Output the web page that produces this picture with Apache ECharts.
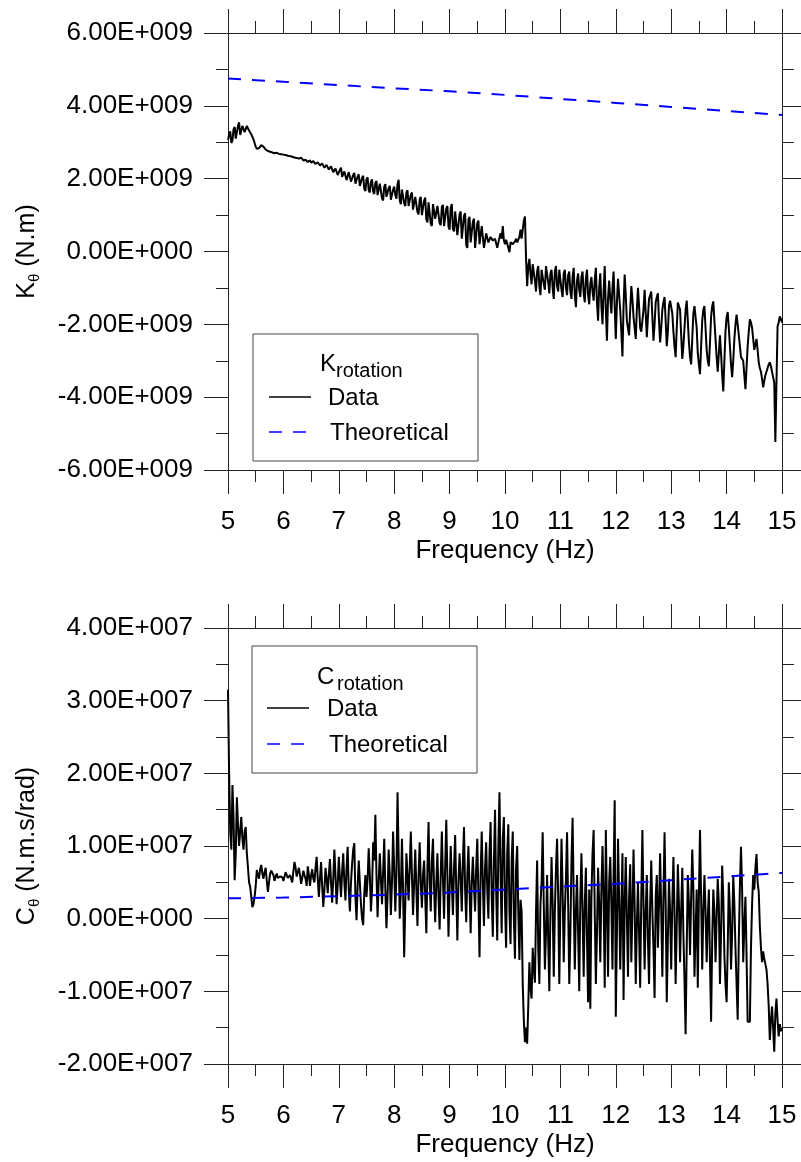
<!DOCTYPE html>
<html>
<head>
<meta charset="utf-8">
<title>Rotational stiffness and damping vs frequency</title>
<script src="https://cdn.jsdelivr.net/npm/echarts@6/dist/echarts.min.js"></script>
<style>
  html, body { margin: 0; padding: 0; background: #fff; }
  #chart { width: 801px; height: 1162px; }
</style>
</head>
<body>
<div id="chart"></div>
<script>
// Sampling grid of the measured spectra (Hz)
const FREQ_START = 5;
const FREQ_STEP = 0.02;

// Measured rotational stiffness K_theta, in units of 1e9 N.m (one row = 0.5 Hz)
const kData = [
  3.07, 3.20, 3.30, 2.98, 3.05, 3.35, 3.42, 3.10, 3.15, 3.45, 3.55, 3.20, 3.25, 3.45, 3.50, 3.28, 3.30, 3.45, 3.40, 3.32, 3.28, 3.22, 3.18, 3.08, 2.98,
  2.88, 2.82, 2.80, 2.84, 2.88, 2.92, 2.90, 2.88, 2.84, 2.80, 2.78, 2.76, 2.75, 2.74, 2.73, 2.72, 2.71, 2.70, 2.70, 2.71, 2.70, 2.68, 2.68, 2.67, 2.67,
  2.66, 2.66, 2.65, 2.64, 2.63, 2.63, 2.62, 2.61, 2.60, 2.59, 2.58, 2.58, 2.57, 2.56, 2.55, 2.57, 2.58, 2.53, 2.50, 2.54, 2.52, 2.48, 2.46, 2.50, 2.50,
  2.44, 2.42, 2.48, 2.47, 2.40, 2.38, 2.45, 2.44, 2.36, 2.33, 2.42, 2.40, 2.30, 2.28, 2.38, 2.36, 2.25, 2.22, 2.34, 2.35, 2.18, 2.14, 2.28, 2.30, 2.10,
  2.06, 2.24, 2.30, 2.05, 2.00, 2.20, 2.25, 1.96, 1.92, 2.18, 2.22, 1.92, 1.88, 2.10, 2.16, 1.86, 1.82, 2.06, 2.12, 1.80, 1.76, 2.02, 2.08, 1.72, 1.66,
  1.98, 2.04, 1.68, 1.62, 1.92, 1.98, 1.64, 1.58, 1.88, 1.94, 1.55, 1.50, 1.86, 1.90, 1.46, 1.40, 1.78, 1.85, 1.50, 1.45, 1.74, 1.80, 1.42, 1.38, 1.70,
  1.78, 1.55, 1.45, 1.85, 1.97, 1.40, 1.30, 1.70, 1.75, 1.32, 1.25, 1.62, 1.68, 1.25, 1.20, 1.56, 1.62, 1.15, 1.10, 1.50, 1.55, 1.08, 1.02, 1.44, 1.50,
  1.00, 0.95, 1.40, 1.48, 0.88, 0.80, 1.35, 1.40, 0.76, 0.70, 1.30, 1.35, 0.90, 0.85, 1.25, 1.30, 0.78, 0.72, 1.22, 1.28, 0.70, 0.65, 1.18, 1.25, 0.68,
  0.60, 1.20, 1.30, 0.62, 0.55, 1.10, 1.15, 0.45, 0.40, 1.02, 1.10, 0.35, 0.30, 0.98, 1.05, 0.18, 0.10, 0.88, 0.95, 0.25, 0.20, 0.82, 0.90, 0.10, 0.05,
  0.78, 0.85, 0.20, 0.15, 0.70, 0.75, 0.10, 0.05, 0.50, 0.55, 0.25, 0.20, 0.40, 0.45, 0.30, 0.25, 0.35, 0.40, 0.10, 0.05, 0.38, 0.50, 0.35, 0.70, 0.30,
  0.20, 0.32, 0.35, 0.10, -0.02, 0.25, 0.30, 0.20, 0.15, 0.28, 0.35, 0.25, 0.20, 0.40, 0.60, 0.35, 0.30, 0.85, 0.96, -0.20, -0.95, -0.40, -0.20, -0.60, -0.90,
  -0.35, -0.30, -0.80, -1.10, -0.55, -0.40, -0.95, -1.20, -0.50, -0.45, -0.90, -1.05, -0.40, -0.35, -0.85, -1.15, -0.60, -0.50, -1.00, -1.30, -0.55, -0.40, -0.95, -1.10, -0.50,
  -0.45, -1.05, -1.25, -0.60, -0.50, -1.00, -1.20, -0.65, -0.55, -1.10, -1.30, -0.70, -0.45, -1.20, -1.53, -0.80, -0.60, -1.05, -1.25, -0.70, -0.55, -1.15, -1.40, -0.75, -0.50,
  -1.20, -1.45, -0.90, -0.70, -1.10, -1.35, -0.80, -0.45, -1.40, -1.90, -1.00, -0.60, -1.50, -2.00, -1.10, -0.40, -1.60, -2.45, -1.30, -0.80, -1.30, -1.70, -1.00, -0.55, -1.50,
  -2.40, -1.40, -0.75, -1.20, -1.60, -2.20, -2.88, -1.50, -0.63, -1.20, -1.90, -2.10, -2.30, -1.60, -0.95, -1.30, -1.80, -2.10, -2.40, -1.60, -1.00, -1.50, -2.10, -2.20, -2.25,
  -1.60, -1.05, -1.70, -2.35, -1.80, -1.30, -1.20, -1.10, -1.80, -2.45, -2.00, -1.40, -1.25, -1.15, -1.90, -2.50, -2.10, -1.60, -1.40, -1.25, -1.90, -2.60, -2.20, -1.50, -1.35,
  -1.30, -1.70, -2.20, -2.60, -2.90, -2.10, -1.40, -1.45, -1.60, -2.30, -2.95, -2.60, -2.10, -1.60, -1.35, -1.90, -2.50, -2.90, -3.10, -2.40, -1.70, -1.50, -1.45, -2.10, -2.80,
  -3.10, -3.37, -2.60, -1.90, -1.60, -1.50, -2.10, -2.70, -3.00, -3.15, -2.50, -1.80, -1.50, -1.37, -1.90, -2.40, -2.90, -3.30, -2.80, -2.30, -2.80, -3.40, -3.84, -3.00, -2.20,
  -1.80, -1.66, -2.10, -2.60, -3.10, -3.45, -3.00, -2.40, -2.00, -1.73, -2.00, -2.30, -2.60, -2.90, -2.95, -3.00, -3.40, -3.78, -3.20, -2.60, -2.20, -1.86, -1.95, -2.10, -2.40,
  -2.70, -2.55, -2.40, -2.70, -3.05, -3.20, -3.30, -3.50, -3.73, -3.55, -3.40, -3.30, -3.20, -3.10, -3.04, -3.15, -3.30, -3.45, -3.60, -5.23, -3.60, -2.05, -1.95, -1.78, -1.85, -1.95
];

// Measured rotational damping C_theta, in units of 1e7 N.m.s/rad (one row = 0.5 Hz)
const cData = [
  3.15, 2.00, 1.20, 0.95, 1.84, 1.40, 0.53, 0.90, 1.67, 1.30, 1.00, 1.20, 1.40, 1.10, 0.95, 1.20, 1.26, 0.90, 0.71, 0.50, 0.44, 0.30, 0.16, 0.20, 0.30,
  0.45, 0.67, 0.60, 0.55, 0.68, 0.74, 0.62, 0.55, 0.64, 0.70, 0.52, 0.37, 0.50, 0.62, 0.66, 0.68, 0.60, 0.52, 0.58, 0.62, 0.56, 0.55, 0.58, 0.60, 0.57,
  0.52, 0.58, 0.64, 0.60, 0.56, 0.58, 0.60, 0.55, 0.50, 0.65, 0.78, 0.70, 0.58, 0.64, 0.70, 0.60, 0.48, 0.56, 0.66, 0.60, 0.55, 0.45, 0.72, 0.60, 0.45,
  0.60, 0.68, 0.55, 0.50, 0.70, 0.85, 0.55, 0.30, 0.55, 0.78, 0.45, 0.16, 0.40, 0.70, 0.55, 0.35, 0.60, 0.82, 0.50, 0.22, 0.55, 0.95, 0.60, 0.20, 0.45,
  0.85, 0.55, 0.30, 0.65, 0.90, 0.50, 0.25, 0.70, 0.99, 0.40, 0.10, 0.50, 0.75, 0.95, 1.04, 0.30, -0.02, 0.45, 0.80, 0.50, 0.20, 0.00, -0.09, 0.35, 0.60,
  0.30, 0.55, 0.97, 0.60, 0.10, 0.40, 1.05, 0.80, 1.43, 0.60, 0.02, 0.50, 0.90, 0.55, 0.20, 0.65, 1.10, 0.40, -0.13, 0.30, 0.95, 0.60, 0.05, 0.50, 1.20,
  0.70, 0.10, 0.60, 1.74, 0.90, 0.00, 0.40, 1.10, 0.40, -0.53, 0.20, 0.90, 0.60, 0.25, 0.70, 1.20, 0.60, 0.05, 0.50, 0.95, 0.40, -0.10, 0.60, 1.05, 0.50,
  0.15, 0.60, 0.80, 0.30, -0.20, 0.70, 1.33, 0.50, 0.10, 0.80, 1.10, 0.40, -0.05, 0.50, 0.90, 0.30, -0.15, 0.60, 1.20, 0.55, 0.00, 0.70, 1.36, 0.60, -0.25,
  0.40, 1.00, 0.50, 0.05, 0.70, 1.15, 0.40, -0.30, 0.50, 0.90, 0.55, 0.10, 0.80, 1.26, 0.40, -0.05, 0.60, 1.00, 0.40, -0.20, 0.50, 0.85, 0.45, 0.10, 0.70,
  1.10, 0.30, -0.53, 0.60, 1.20, 0.50, -0.10, 0.70, 1.05, 0.40, 0.00, 0.90, 1.33, 0.30, -0.25, 0.80, 1.50, 0.40, -0.30, 1.00, 1.74, 0.60, -0.20, 1.10, 1.40,
  0.20, -0.40, 0.90, 1.30, 0.10, -0.35, 0.80, 1.20, 0.00, -0.55, 0.70, 1.00, 0.10, -0.57, 0.26, 0.10, -0.90, -1.40, -1.70, -1.50, -1.72, -1.20, -0.60, -0.95, -1.10,
  -0.40, -0.70, -0.88, 0.10, 0.80, -0.40, -0.90, 0.20, 0.50, 1.19, 0.20, -0.70, -0.20, 0.60, -0.30, -1.00, 0.10, 0.85, 0.20, -0.80, 0.10, 0.70, 1.10, 0.30, -0.90,
  0.20, 1.10, 0.40, -0.60, 0.10, 0.55, 1.19, 0.20, -0.90, -0.20, 0.80, 1.39, 0.30, -0.70, 0.10, 0.60, -0.20, -1.00, 0.30, 0.90, 0.10, -0.80, 0.20, 0.70, -0.30,
  -1.15, 0.40, -1.24, 0.30, 0.90, 1.22, 0.10, -0.90, -0.20, 0.70, 0.20, -0.60, 0.40, 1.00, 0.30, -0.95, 1.22, 0.20, -0.80, 0.50, 0.85, 0.20, -0.70, 0.60, 1.63,
  -1.35, -0.20, 1.10, 0.30, -0.70, 0.10, 0.90, -1.12, 0.20, 0.85, 0.00, -0.80, 0.30, 0.75, -0.60, 0.10, 0.95, 0.20, -0.90, -0.10, 0.50, -0.20, -0.95, 0.30, 1.22,
  0.20, -0.70, 0.10, 0.60, -0.30, -0.90, 0.20, 0.80, 0.10, -0.40, -1.09, 0.30, 0.60, -0.40, 0.20, 0.90, 0.10, -0.80, 0.30, 1.19, 0.20, -1.15, -0.30, 0.55, 0.10,
  -0.70, 0.20, 0.85, 0.10, -0.90, -0.10, 0.75, 0.20, -0.60, 0.10, 0.70, -0.20, -0.85, -1.59, -0.40, 0.60, 0.20, -0.50, 0.30, 0.95, 0.40, -0.80, -0.20, 0.40, -0.95,
  0.30, 1.22, 0.30, -0.70, 0.10, 0.60, 0.10, -0.60, 0.00, 0.40, -0.60, -1.42, -0.30, 0.40, 0.10, -0.60, 0.00, 0.55, 0.20, -0.90, -0.20, 0.73, 0.30, -0.50, -0.90,
  -1.15, -0.40, 0.50, 0.10, -0.70, -0.20, 0.60, 0.20, -0.40, -0.90, -1.39, -0.30, 0.45, 0.99, 0.40, -0.60, -0.10, 0.30, -0.50, -1.42, -1.40, -1.42, -0.40, 0.20, 0.60,
  0.40, 0.70, 0.89, 0.50, 0.37, -0.10, -0.40, -0.60, -0.45, -0.55, -0.53, -0.70, -0.90, -1.20, -1.67, -1.40, -1.21, -1.50, -1.83, -1.30, -1.10, -1.40, -1.62, -1.45, -1.55, -1.50
];

// Theoretical curves, evaluated at whole hertz
const theoryFreq = [5, 6, 7, 8, 9, 10, 11, 12, 13, 14, 15];
const kTheory = [4.75, 4.66, 4.57, 4.48, 4.40, 4.30, 4.19, 4.08, 3.97, 3.86, 3.75];
const cTheory = [0.28, 0.29, 0.31, 0.33, 0.36, 0.40, 0.44, 0.48, 0.53, 0.58, 0.63];

// Axis ticks and their printed labels
const freqTicks = [5, 6, 7, 8, 9, 10, 11, 12, 13, 14, 15];
const kTicks = [-6, -4, -2, 0, 2, 4, 6];
const kTickLabels = ['-6.00E+009', '-4.00E+009', '-2.00E+009', '0.00E+000', '2.00E+009', '4.00E+009', '6.00E+009'];
const cTicks = [-2, -1, 0, 1, 2, 3, 4];
const cTickLabels = ['-2.00E+007', '-1.00E+007', '0.00E+000', '1.00E+007', '2.00E+007', '3.00E+007', '4.00E+007'];

const FONT = '"Liberation Sans", Arial, Helvetica, sans-serif';
const AXIS_COLOR = '#222';
const LABEL_SIZE = 26;

function pairs(values) {
  return values.map((v, i) => [+(FREQ_START + i * FREQ_STEP).toFixed(2), v]);
}
function zip(xs, ys) {
  return xs.map((x, i) => [x, ys[i]]);
}
function labelFor(ticks, labels) {
  return v => {
    const i = ticks.findIndex(t => Math.abs(t - v) < 1e-6);
    return i >= 0 ? labels[i] : '';
  };
}

const lineStyle = { color: AXIS_COLOR, width: 1 };

function xAxes(gridIndex) {
  const common = {
    type: 'value', gridIndex,
    min: freqTicks[0], max: freqTicks[freqTicks.length - 1], interval: 1,
    axisLine: { show: true, onZero: false, lineStyle },
    axisTick: { show: true, inside: false, length: 24, lineStyle },
    minorTick: { show: true, splitNumber: 2, length: 12, lineStyle },
    splitLine: { show: false }, minorSplitLine: { show: false }
  };
  return [
    Object.assign({}, common, {
      position: 'bottom',
      axisLabel: { show: true, margin: 39, fontSize: LABEL_SIZE, fontFamily: FONT, color: '#000' },
      name: 'Frequency (Hz)', nameLocation: 'middle', nameGap: 68,
      nameTextStyle: { fontSize: LABEL_SIZE, fontFamily: FONT, color: '#000' }
    }),
    Object.assign({}, common, { position: 'top', axisLabel: { show: false } })
  ];
}

function yAxes(gridIndex, ticks, labels, interval, nameRich) {
  const common = {
    type: 'value', gridIndex,
    min: ticks[0], max: ticks[ticks.length - 1], interval,
    axisLine: { show: true, onZero: false, lineStyle },
    axisTick: { show: true, inside: false, length: 24, lineStyle },
    minorTick: { show: true, splitNumber: 2, length: 12, lineStyle },
    splitLine: { show: false }, minorSplitLine: { show: false }
  };
  return [
    Object.assign({}, common, {
      position: 'left',
      axisLabel: { show: true, margin: 35, fontSize: LABEL_SIZE, fontFamily: FONT, color: '#000',
                   formatter: labelFor(ticks, labels) },
      name: nameRich, nameLocation: 'middle', nameGap: 186,
      nameTextStyle: {
        color: '#000', fontFamily: FONT, fontSize: 25,
        rich: {
          m: { fontSize: 25, fontFamily: FONT, color: '#000', lineHeight: 30 },
          s: { fontSize: 15, fontFamily: FONT, color: '#000', lineHeight: 12, verticalAlign: 'bottom' }
        }
      }
    }),
    Object.assign({}, common, { position: 'right', axisLabel: { show: false } })
  ];
}

// Legend box drawn as graphic elements
function legendBox(x, y, w, h, letter, titleX, subX, titleBase, subBase, dataY, theoY, lineX, textX) {
  const stroke = '#444';
  return [
    { type: 'rect', z: 100, shape: { x, y, width: w, height: h },
      style: { fill: '#fff', stroke, lineWidth: 1 } },
    { type: 'text', z: 101, x: titleX, y: titleBase,
      style: { text: letter, font: '24px ' + FONT, fill: '#000', align: 'left', verticalAlign: 'bottom',
               textAlign: 'left', textVerticalAlign: 'bottom' } },
    { type: 'text', z: 101, x: subX, y: subBase,
      style: { text: 'rotation', font: '20px ' + FONT, fill: '#000', align: 'left', verticalAlign: 'bottom',
               textAlign: 'left', textVerticalAlign: 'bottom' } },
    { type: 'line', z: 101, shape: { x1: lineX, y1: dataY, x2: lineX + 42, y2: dataY },
      style: { stroke: '#000', lineWidth: 1.5 } },
    { type: 'text', z: 101, x: textX, y: dataY + 1,
      style: { text: 'Data', font: '24px ' + FONT, fill: '#000', align: 'left', verticalAlign: 'middle',
               textAlign: 'left', textVerticalAlign: 'middle' } },
    { type: 'line', z: 101, shape: { x1: lineX, y1: theoY, x2: lineX + 38, y2: theoY },
      style: { stroke: '#0000ff', lineWidth: 1.5, lineDash: [13, 11] } },
    { type: 'text', z: 101, x: textX + 2, y: theoY + 1,
      style: { text: 'Theoretical', font: '24px ' + FONT, fill: '#000', align: 'left', verticalAlign: 'middle',
               textAlign: 'left', textVerticalAlign: 'middle' } }
  ];
}

const chart = echarts.init(document.getElementById('chart'), null, { renderer: 'canvas' });

const option = {
  backgroundColor: '#fff',
  animation: false,
  grid: [
    { left: 228, top: 33, width: 554, height: 437 },
    { left: 228, top: 628, width: 554, height: 436 }
  ],
  xAxis: [...xAxes(0), ...xAxes(1)],
  yAxis: [
    ...yAxes(0, kTicks, kTickLabels, 2, '{m|K}{s|θ}{m| (N.m)}'),
    ...yAxes(1, cTicks, cTickLabels, 1, '{m|C}{s|θ}{m| (N.m.s/rad)}')
  ],
  series: [
    { name: 'Data', type: 'line', xAxisIndex: 0, yAxisIndex: 0, data: pairs(kData),
      showSymbol: false, lineStyle: { color: '#000', width: 2 }, z: 3 },
    { name: 'Theoretical', type: 'line', xAxisIndex: 0, yAxisIndex: 0, data: zip(theoryFreq, kTheory),
      showSymbol: false, lineStyle: { color: '#0000ff', width: 2, type: [13, 11] }, z: 4 },
    { name: 'Data', type: 'line', xAxisIndex: 2, yAxisIndex: 2, data: pairs(cData),
      showSymbol: false, lineStyle: { color: '#000', width: 2 }, z: 3 },
    { name: 'Theoretical', type: 'line', xAxisIndex: 2, yAxisIndex: 2, data: zip(theoryFreq, cTheory),
      showSymbol: false, lineStyle: { color: '#0000ff', width: 2, type: [13, 11] }, z: 4 }
  ],
  graphic: [
    ...legendBox(253, 334, 225, 127, 'K', 320, 336, 376, 381, 397, 432, 269, 328),
    ...legendBox(252, 646, 225, 127, 'C', 317, 337, 689, 694, 708, 744, 267, 327)
  ]
};

chart.setOption(option);
</script>
</body>
</html>
